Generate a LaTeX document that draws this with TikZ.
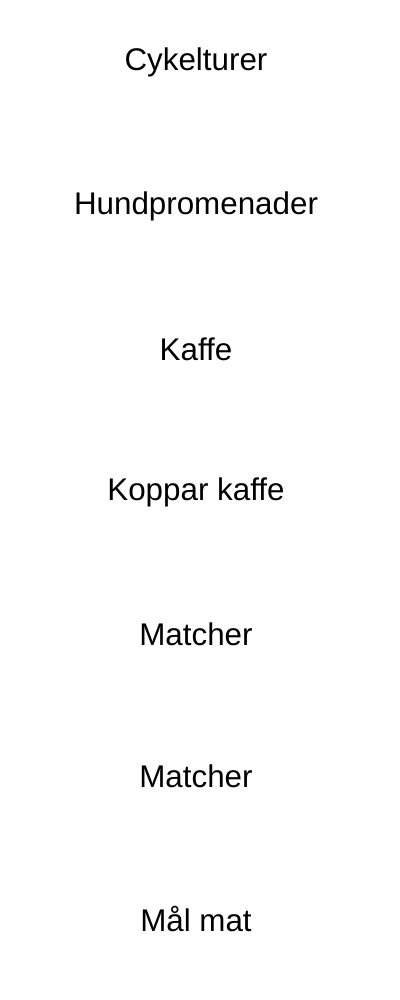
\documentclass[tikz,border=0pt]{standalone}
\usepackage{fontspec}
\setmainfont{Liberation Sans}
\usetikzlibrary{positioning}

\begin{document}
\begin{tikzpicture}[every node/.style={anchor=base,font=\fontsize{22.3}{26}\selectfont}]
\tikzset{item/.style={inner sep=0pt}}
\useasboundingbox (0,0) rectangle (10,-25);
\foreach \n/\y/\t in {cyk/1.775/Cykelturer, hund/5.35/Hundpromenader, kaffe/9.0/Kaffe,
                      kopp/12.5/Koppar kaffe, matchA/16.125/Matcher, matchB/19.675/Matcher,
                      mat/23.275/Mål mat}
    \node[item] (\n) at (4.9,-\y) {\t};
\end{tikzpicture}
\end{document}
